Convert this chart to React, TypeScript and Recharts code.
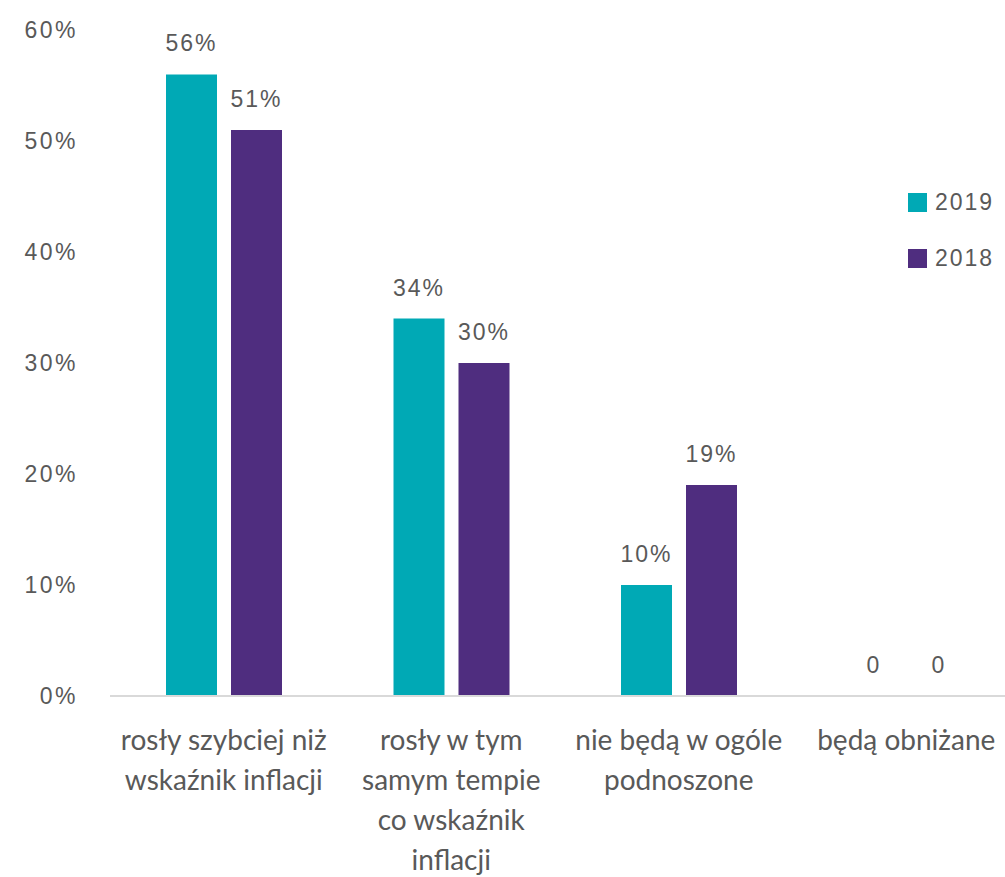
import { BarChart, Bar, XAxis, YAxis, Legend, LabelList } from "recharts"

const CATEGORIES = [
    "rosły szybciej niż\nwskaźnik inflacji",
    "rosły w tym\nsamym tempie\nco wskaźnik\ninflacji",
    "nie będą w ogóle\npodnoszone",
    "będą obniżane",
]
const Y2019 = [56, 34, 10, 0]
const Y2018 = [51, 30, 19, 0]
const Y_TICKS = [0, 10, 20, 30, 40, 50, 60]

const TEAL = "#00A9B5"
const PURPLE = "#4F2D7F"
const TEXT = "#595959"
const NUM_FONT = "'Liberation Sans', Arial, sans-serif"
const CAT_FONT = "Lato, 'Open Sans', sans-serif"

const data = CATEGORIES.map((name, i) => ({
    name,
    y2019: Y2019[i],
    y2018: Y2018[i],
}))

const fmtValue = (v: any) => (Number(v) === 0 ? "0" : `${v}%`)
// zero bars still need a label, so give them a hair of height
const tinyForZero = (v: any) => (Number(v) === 0 ? 0.01 : 0)

function CategoryTick(props: any) {
    const { x, y, payload } = props
    const lines = String(payload.value).split("\n")
    return (
        <text x={x} y={y} textAnchor="middle" fill={TEXT} fontSize={28} fontFamily={CAT_FONT}>
            {lines.map((line, i) => (
                <tspan key={i} x={x} dy={i === 0 ? 54 : 40}>{line}</tspan>
            ))}
        </text>
    )
}

function LegendBox() {
    const items = [
        { label: "2019", color: TEAL },
        { label: "2018", color: PURPLE },
    ]
    return (
        <div>
            {items.map((it) => (
                <div key={it.label} style={{ display: "flex", alignItems: "center", height: 56 }}>
                    <span style={{ width: 19, height: 19, background: it.color, display: "inline-block", marginRight: 8 }} />
                    <span style={{ fontFamily: NUM_FONT, fontSize: 23, letterSpacing: 2, color: TEXT }}>{it.label}</span>
                </div>
            ))}
        </div>
    )
}

export default function App() {
    return (
        <div style={{ position: "absolute", left: 0, top: 0, width: 1005, height: 877, overflow: "hidden", background: "#fff" }}>
            <BarChart
                width={1025}
                height={877}
                data={data}
                margin={{ top: 30, right: 5, bottom: 0, left: 0 }}
                barSize={51}
                barGap={14}
            >
                <XAxis
                    dataKey="name"
                    height={181}
                    interval={0}
                    tickLine={false}
                    tickSize={0}
                    tickMargin={0}
                    axisLine={{ stroke: "#d9d9d9", strokeWidth: 2 }}
                    tick={<CategoryTick />}
                />
                <YAxis
                    width={110}
                    domain={[0, 60]}
                    ticks={Y_TICKS}
                    axisLine={false}
                    tickLine={false}
                    tickSize={0}
                    tickMargin={32}
                    tickFormatter={(v) => `${v}%`}
                    tick={{ fill: TEXT, fontSize: 23, fontFamily: NUM_FONT, letterSpacing: 2.5 }}
                />
                <Legend
                    layout="horizontal"
                    verticalAlign="middle"
                    align="center"
                    content={<LegendBox />}
                    wrapperStyle={{ left: 908, top: 174, width: 100 }}
                />
                <Bar dataKey="y2019" name="2019" fill={TEAL} minPointSize={tinyForZero} isAnimationActive={false}>
                    <LabelList dataKey="y2019" position="top" offset={23} formatter={fmtValue}
                        fill={TEXT} fontSize={23} fontFamily={NUM_FONT} letterSpacing={2} />
                </Bar>
                <Bar dataKey="y2018" name="2018" fill={PURPLE} minPointSize={tinyForZero} isAnimationActive={false}>
                    <LabelList dataKey="y2018" position="top" offset={23} formatter={fmtValue}
                        fill={TEXT} fontSize={23} fontFamily={NUM_FONT} letterSpacing={2} />
                </Bar>
            </BarChart>
        </div>
    )
}
